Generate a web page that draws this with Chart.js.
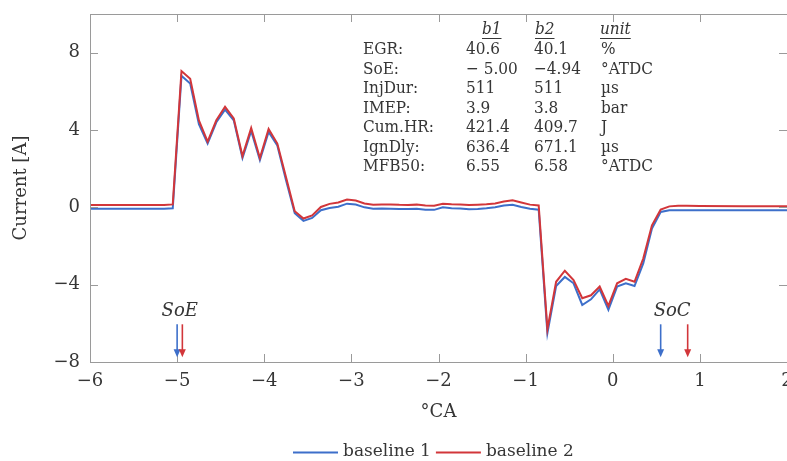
<!DOCTYPE html>
<html><head><meta charset="utf-8">
<script src="https://cdn.jsdelivr.net/npm/chart.js@4/dist/chart.umd.min.js"></script>
<style>html,body{margin:0;padding:0;background:#fff;overflow:hidden}#wrap{width:787px;height:461px;position:relative}</style>
</head><body><div id="wrap"><canvas id="c" width="787" height="461"></canvas></div>
<script>
// ---- data ----
const crankAngle = [-6.0,-5.15,-5.05,-4.95,-4.85,-4.75,-4.65,-4.55,-4.45,-4.35,-4.25,-4.15,-4.05,-3.95,-3.85,-3.75,-3.65,-3.55,-3.45,-3.35,-3.25,-3.15,-3.05,-2.95,-2.85,-2.75,-2.65,-2.55,-2.45,-2.35,-2.25,-2.15,-2.05,-1.95,-1.85,-1.75,-1.65,-1.55,-1.45,-1.35,-1.25,-1.15,-1.05,-0.95,-0.85,-0.75,-0.65,-0.55,-0.45,-0.35,-0.25,-0.15,-0.05,0.05,0.15,0.25,0.35,0.45,0.55,0.65,0.75,0.85,1.0,1.5,2.0];
const baseline1 = [-0.07,-0.07,-0.05,6.8,6.4,4.3,3.3,4.4,5.05,4.5,2.55,3.95,2.45,3.9,3.2,1.4,-0.3,-0.7,-0.55,-0.15,-0.03,0.03,0.19,0.15,0.0,-0.07,-0.06,-0.07,-0.09,-0.08,-0.07,-0.12,-0.13,0.0,-0.05,-0.06,-0.1,-0.08,-0.05,0.0,0.1,0.13,0.02,-0.07,-0.12,-6.5,-4.07,-3.6,-3.93,-5.05,-4.76,-4.24,-5.3,-4.1,-3.93,-4.07,-2.9,-1.1,-0.24,-0.15,-0.15,-0.15,-0.15,-0.15,-0.15];
const baseline2 = [0.12,0.12,0.15,7.05,6.65,4.5,3.4,4.5,5.2,4.6,2.65,4.1,2.55,4.05,3.3,1.55,-0.2,-0.58,-0.42,0.02,0.18,0.25,0.4,0.35,0.2,0.14,0.15,0.15,0.13,0.12,0.14,0.1,0.08,0.18,0.16,0.15,0.12,0.14,0.16,0.2,0.3,0.36,0.25,0.14,0.1,-6.3,-3.85,-3.28,-3.76,-4.7,-4.55,-4.1,-5.1,-3.93,-3.7,-3.85,-2.65,-0.93,-0.12,0.05,0.08,0.08,0.07,0.05,0.05];
const seriesNames = ['baseline 1','baseline 2'];
const seriesColors = ['#3d6fca','#d2363a'];
const xTicks = [-6,-5,-4,-3,-2,-1,0,1,2];
const xTickLabels = ['\u22126','\u22125','\u22124','\u22123','\u22122','\u22121','0','1','2'];
const yTicks = [-8,-4,0,4,8];
const yTickLabels = ['\u22128','\u22124','0','4','8'];
const soeValues = [-5.00,-4.94];
const socValues = [0.55,0.86];
const tableHeader = ['b1','b2','unit'];
const tableRows = ['EGR:','SoE:','InjDur:','IMEP:','Cum.HR:','IgnDly:','MFB50:'];
const tableB1 = ['40.6','\u2212 5.00','511','3.9','421.4','636.4','6.55'];
const tableB2 = ['40.1','\u22124.94','511','3.8','409.7','671.1','6.58'];
const tableUnit = ['%','\u00b0ATDC','\u00b5s','bar','J','\u00b5s','\u00b0ATDC'];

const FONT = '"DejaVu Serif"';
const FONTC = '"DejaVu Serif Condensed", "DejaVu Serif"';
const TXT = '#363636';
const AX = '#9a9a9a';

const framePlugin = {
  id: 'frame',
  afterDatasetsDraw(chart) {
    const ctx = chart.ctx, a = chart.chartArea;
    const xs = chart.scales.x, ys = chart.scales.y;
    ctx.save();
    ctx.strokeStyle = AX; ctx.lineWidth = 1;
    ctx.beginPath();
    ctx.rect(a.left + 0.5, a.top + 0.5, a.right - a.left, a.bottom - a.top);
    ctx.stroke();
    ctx.beginPath();
    xTicks.forEach(v => {
      const p = Math.round(xs.getPixelForValue(v)) + 0.5;
      ctx.moveTo(p, a.bottom); ctx.lineTo(p, a.bottom - 8);
      ctx.moveTo(p, a.top); ctx.lineTo(p, a.top + 8);
    });
    yTicks.forEach(v => {
      const p = Math.round(ys.getPixelForValue(v)) + 0.5;
      ctx.moveTo(a.left, p); ctx.lineTo(a.left + 8, p);
      ctx.moveTo(a.right, p); ctx.lineTo(a.right - 8, p);
    });
    ctx.stroke();

    // tick labels
    ctx.fillStyle = TXT;
    ctx.font = '18px ' + FONT;
    ctx.textBaseline = 'middle';
    ctx.textAlign = 'center';
    xTicks.forEach((v, i) => ctx.fillText(xTickLabels[i], xs.getPixelForValue(v), a.bottom + 19));
    ctx.textAlign = 'right';
    yTicks.forEach((v, i) => ctx.fillText(yTickLabels[i], a.left - 10, ys.getPixelForValue(v)));

    // arrows
    const arrow = (xv, col) => {
      const x = xs.getPixelForValue(xv);
      const y0 = ys.getPixelForValue(-6.05), y1 = ys.getPixelForValue(-7.75);
      ctx.strokeStyle = col; ctx.fillStyle = col; ctx.lineWidth = 1.6;
      ctx.beginPath(); ctx.moveTo(x, y0); ctx.lineTo(x, y1 - 6); ctx.stroke();
      ctx.beginPath(); ctx.moveTo(x - 3.5, y1 - 8); ctx.lineTo(x + 3.5, y1 - 8); ctx.lineTo(x, y1); ctx.closePath(); ctx.fill();
    };
    soeValues.forEach((v, i) => arrow(v, seriesColors[i]));
    socValues.forEach((v, i) => arrow(v, seriesColors[i]));
    ctx.fillStyle = TXT;
    ctx.font = 'italic 18px ' + FONT;
    ctx.textAlign = 'center'; ctx.textBaseline = 'middle';
    const ly = ys.getPixelForValue(-5.36);
    ctx.fillText('SoE', xs.getPixelForValue((soeValues[0] + soeValues[1]) / 2), ly);
    ctx.fillText('SoC', xs.getPixelForValue((socValues[0] + socValues[1]) / 2) - 2, ly);

    // table
    ctx.textAlign = 'left'; ctx.textBaseline = 'middle';
    ctx.font = '17px ' + FONTC;
    const cx = [363, 466, 534, 601];
    const rowY = i => 50 + i * 19.5;
    tableRows.forEach((t, i) => {
      const y = rowY(i);
      ctx.fillText(t, cx[0], y);
      ctx.fillText(tableB1[i], cx[1], y);
      ctx.fillText(tableB2[i], cx[2], y);
      ctx.fillText(tableUnit[i], cx[3], y);
    });
    ctx.font = 'italic 17px ' + FONTC;
    const hx = [482, 535, 600];
    ctx.strokeStyle = TXT; ctx.lineWidth = 1;
    tableHeader.forEach((h, i) => {
      ctx.fillText(h, hx[i], 30);
      const w = ctx.measureText(h).width;
      ctx.beginPath(); ctx.moveTo(hx[i], 38.5); ctx.lineTo(hx[i] + w, 38.5); ctx.stroke();
    });

    // legend
    ctx.font = '17px ' + FONT;
    let lx = 293; const legY = 452;
    seriesNames.forEach((n, i) => {
      ctx.strokeStyle = seriesColors[i]; ctx.lineWidth = 2;
      ctx.beginPath(); ctx.moveTo(lx, legY + 0.5); ctx.lineTo(lx + 45, legY + 0.5); ctx.stroke();
      ctx.fillStyle = TXT; ctx.textAlign = 'left';
      ctx.fillText(n, lx + 50, legY);
      lx += 50 + ctx.measureText(n).width + 5;
    });
    ctx.restore();
  }
};

new Chart(document.getElementById('c'), {
  type: 'line',
  data: {
    datasets: [
      { label: seriesNames[0], data: crankAngle.map((x, i) => ({x, y: baseline1[i]})), borderColor: seriesColors[0], borderWidth: 2, pointRadius: 0, tension: 0, order: 2 },
      { label: seriesNames[1], data: crankAngle.map((x, i) => ({x, y: baseline2[i]})), borderColor: seriesColors[1], borderWidth: 2, pointRadius: 0, tension: 0, order: 1 }
    ]
  },
  options: {
    responsive: false, animation: false, devicePixelRatio: 1,
    layout: { padding: { left: 0, right: 0, top: 14, bottom: 0 }, autoPadding: false },
    plugins: { legend: { display: false }, tooltip: { enabled: false } },
    scales: {
      x: {
        type: 'linear', min: -6, max: 2,
        afterBuildTicks: s => { s.ticks = xTicks.map(v => ({value: v})); },
        afterFit: s => { s.height = 99; s.paddingLeft = 0; s.paddingRight = 0; },
        grid: { display: false, drawTicks: false }, border: { display: false },
        ticks: { display: false },
        title: { display: true, text: '\u00b0CA', font: { family: 'DejaVu Serif', size: 18 }, color: TXT, padding: { top: 0, bottom: 38 } }
      },
      y: {
        min: -8, max: 10,
        afterBuildTicks: s => { s.ticks = yTicks.map(v => ({value: v})); },
        afterFit: s => { s.width = 90; s.paddingTop = 0; s.paddingBottom = 0; },
        grid: { display: false, drawTicks: false }, border: { display: false },
        ticks: { display: false },
        title: { display: true, text: 'Current [A]', font: { family: 'DejaVu Serif', size: 18 }, color: TXT, padding: { top: 11, bottom: 0 } }
      }
    }
  },
  plugins: [framePlugin]
});
</script></body></html>
